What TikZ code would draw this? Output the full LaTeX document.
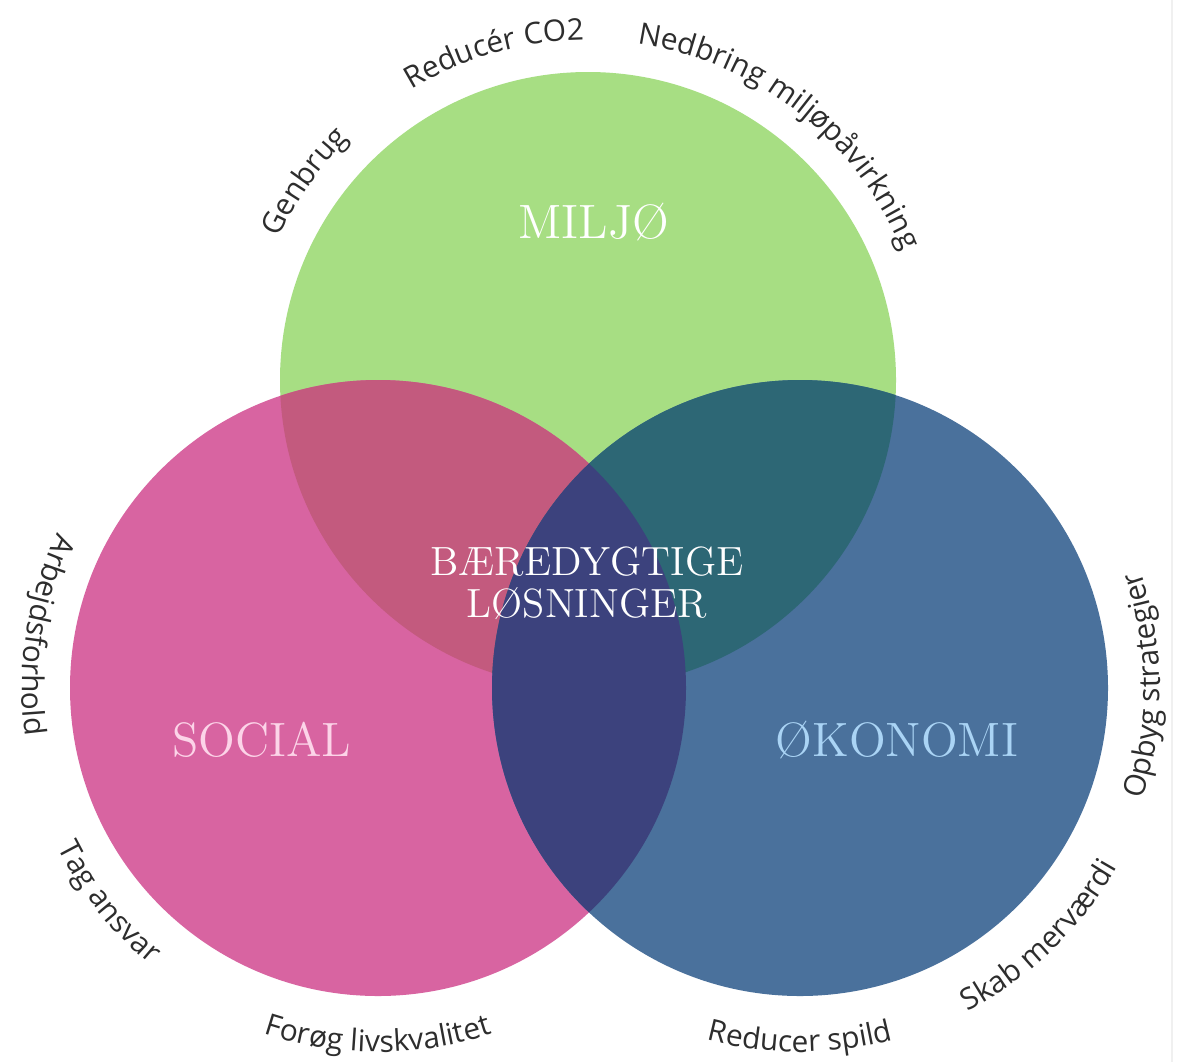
\documentclass[tikz,border=0pt]{standalone}
\usepackage{fontspec}
\usetikzlibrary{decorations.text}
\newfontfamily\opensans{Open Sans}
\newcommand\outerfont{\opensans\fontsize{8.5}{10}\selectfont\color{textgray}}
\newcommand\bigfont{\fontsize{13.7}{16}\selectfont}
\newcommand\midfont{\fontsize{11.6}{12}\selectfont}

\definecolor{miljogreen}{RGB}{167,222,131}
\definecolor{socialpink}{RGB}{216,100,161}
\definecolor{okonomiblue}{RGB}{74,113,156}
\definecolor{greenpink}{RGB}{195,90,126}
\definecolor{greenblue}{RGB}{45,103,117}
\definecolor{pinkblue}{RGB}{60,66,125}
\definecolor{textgray}{RGB}{45,45,45}
\definecolor{socialtext}{RGB}{252,212,232}
\definecolor{okonomitext}{RGB}{170,212,245}
\definecolor{edgegray}{RGB}{240,240,240}

\tikzset{
  toplabel/.style={decorate, decoration={text along path, text align=center,
      text={|\outerfont|#1}}},
  botlabel/.style={decorate, decoration={text along path, text align=center,
      text={|\outerfont|#1}}},
  title/.style={font=\bigfont, inner sep=0pt}
}

\begin{document}
\begin{tikzpicture}
    \useasboundingbox (0,0) rectangle (11.81,-10.62);
    \fill[white] (0,0) rectangle (11.81,-10.62);
    \draw[edgegray, line width=0.6pt] (11.72,0) -- (11.72,-10.62);

    \coordinate (miljo) at (5.88,-3.80);
    \coordinate (social) at (3.78,-6.88);
    \coordinate (okonomi) at (8.00,-6.88);

    % the three circles
    \fill[miljogreen] (miljo) circle (3.08);
    \fill[socialpink] (social) circle (3.08);
    \fill[okonomiblue] (okonomi) circle (3.08);

    % overlaps
    \begin{scope}
      \clip (miljo) circle (3.08);
      \fill[greenpink] (social) circle (3.08);
      \fill[greenblue] (okonomi) circle (3.08);
    \end{scope}
    \begin{scope}
      \clip (social) circle (3.08);
      \fill[pinkblue] (okonomi) circle (3.08);
    \end{scope}

    \node[title, text=white] (miljotitle) at (5.94,-2.22) {MILJØ};
    \node[title, text=socialtext] (socialtitle) at (2.62,-7.40) {SOCIAL};
    \node[title, text=okonomitext] (okonomititle) at (8.97,-7.40) {ØKONOMI};
    \node[font=\midfont, text=white, align=center, inner sep=0pt] (center) at (5.87,-5.83)
      {BÆREDYGTIGE\\LØSNINGER};

    % words round the circles
    \path[toplabel=Genbrug] ([shift={(185:3.40)}]miljo) arc[start angle=185, end angle=105, radius=3.40];
    \path[toplabel=Reducér CO2] ([shift={(146:3.40)}]miljo) arc[start angle=146, end angle=66, radius=3.40];
    \path[toplabel=Nedbring miljøpåvirkning] ([shift={(100:3.40)}]miljo) arc[start angle=100, end angle=4, radius=3.40];

    \path[botlabel=Arbejdsforhold] ([shift={(131:3.56)}]social) arc[start angle=131, end angle=211, radius=3.56];
    \path[botlabel=Tag ansvar] ([shift={(178:3.58)}]social) arc[start angle=178, end angle=259, radius=3.58];
    \path[botlabel=Forøg livskvalitet] ([shift={(230:3.64)}]social) arc[start angle=230, end angle=310, radius=3.64];

    \path[botlabel=Reducer spild] ([shift={(230:3.64)}]okonomi) arc[start angle=230, end angle=310, radius=3.64];
    \path[botlabel=Skab merværdi] ([shift={(274:3.64)}]okonomi) arc[start angle=274, end angle=354, radius=3.64];
    \path[botlabel=Opbyg strategier] ([shift={(-40:3.60)}]okonomi) arc[start angle=-40, end angle=41, radius=3.60];
\end{tikzpicture}
\end{document}
